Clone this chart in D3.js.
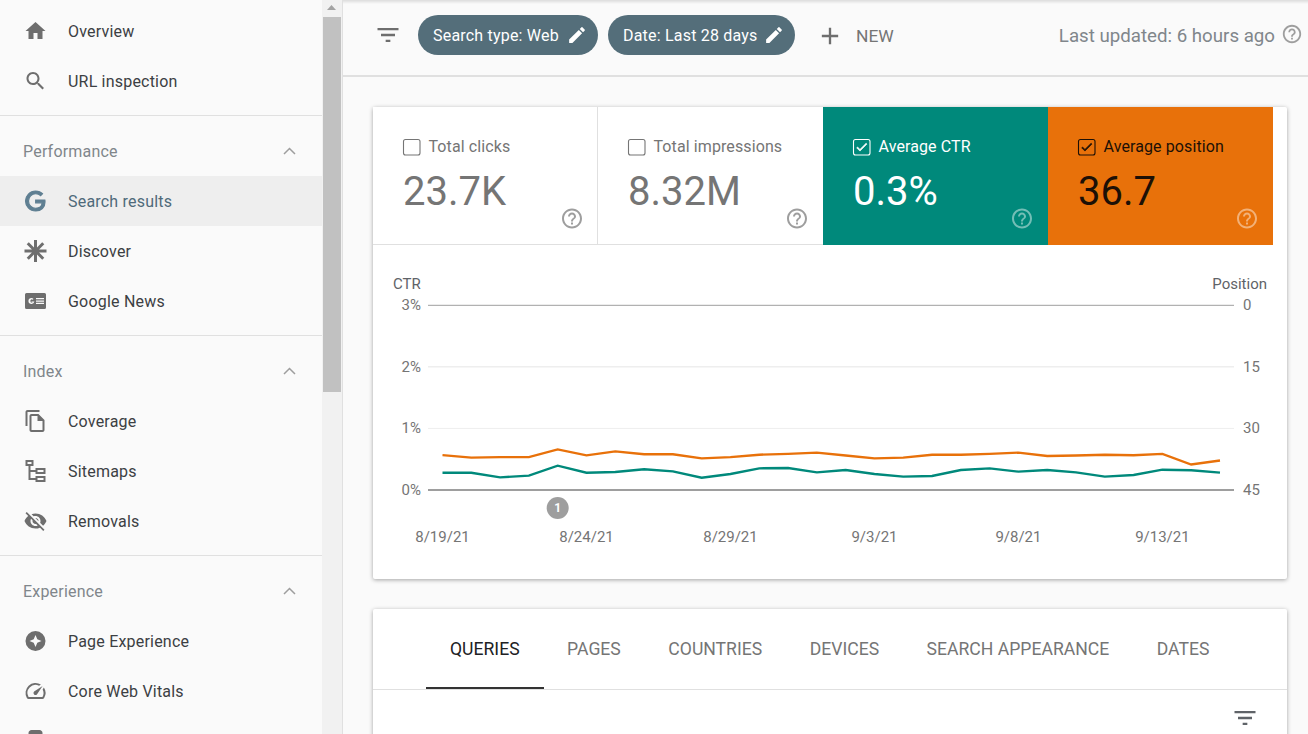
<!DOCTYPE html>
<html>
<head>
<meta charset="utf-8">
<script src="https://cdn.jsdelivr.net/npm/d3@7"></script>
<style>
    html, body { margin: 0; padding: 0; background: #fafafa; overflow: hidden; }
    svg { display: block; font-family: Roboto, sans-serif; }
    .card { filter: drop-shadow(0 1px 2px rgba(0,0,0,.35)); }
    .axis .domain { display: none; }
    .axis text { font-family: Roboto, sans-serif; font-size: 15px; fill: #757575; }
</style>
</head>
<body>
<svg id="page" width="1308" height="734"></svg>
<script>
// chart data
const dates = ['8/19/21','8/20/21','8/21/21','8/22/21','8/23/21','8/24/21','8/25/21',
    '8/26/21','8/27/21','8/28/21','8/29/21','8/30/21','8/31/21','9/1/21',
    '9/2/21','9/3/21','9/4/21','9/5/21','9/6/21','9/7/21','9/8/21',
    '9/9/21','9/10/21','9/11/21','9/12/21','9/13/21','9/14/21','9/15/21'];
const ctrValues = [0.28,0.28,0.205,0.233,0.395,0.28,0.292,0.336,0.303,0.2,0.26,0.352,0.357,0.287,
    0.325,0.26,0.217,0.227,0.325,0.352,0.298,0.325,0.287,0.217,0.244,0.33,0.32,0.282];
const positionValues = [36.5,37.1,37.0,37.0,35.1,36.55,35.6,36.3,36.3,37.3,37.0,36.4,36.2,35.9,
    36.6,37.3,37.1,36.4,36.4,36.2,35.9,36.7,36.6,36.4,36.55,36.2,38.8,37.8];
const xTickLabels = ['8/19/21','8/24/21','8/29/21','9/3/21','9/8/21','9/13/21'];
const ctrTicks = [0, 1, 2, 3];
const positionTicks = [0, 15, 30, 45];
const annotationDate = '8/23/21';

// page text
const navRows = [
    ['Overview', 'home'], ['URL inspection', 'search'], null,
    ['Performance'], ['Search results', 'google'], ['Discover', 'discover'], ['Google News', 'news'], null,
    ['Index'], ['Coverage', 'coverage'], ['Sitemaps', 'sitemaps'], ['Removals', 'removals'], null,
    ['Experience'], ['Page Experience', 'experience'], ['Core Web Vitals', 'vitals'], [' ', 'phone']
];
const tileLabels = ['Total clicks', 'Total impressions', 'Average CTR', 'Average position'];
const tileValues = ['23.7K', '8.32M', '0.3%', '36.7'];
const tileFills = ['#ffffff', '#ffffff', '#00897b', '#e8710a'];
const tileInk = ['#757575', '#757575', '#ffffff', '#1c1006'];
const tabLabels = ['QUERIES', 'PAGES', 'COUNTRIES', 'DEVICES', 'SEARCH APPEARANCE', 'DATES'];

const icons = {
    home: 'M10 20v-6h4v6h5v-8h3L12 3 2 12h3v8z',
    search: 'M15.5 14h-.79l-.28-.27C15.41 12.59 16 11.11 16 9.5 16 5.91 13.09 3 9.5 3S3 5.91 3 9.5 5.91 16 9.5 16c1.61 0 3.09-.59 4.23-1.57l.27.28v.79l5 4.99L20.49 19l-4.99-5zm-6 0C7.01 14 5 11.99 5 9.5S7.01 5 9.5 5 14 7.01 14 9.5 11.99 14 9.5 14z',
    google: 'M21.35 11.1h-9.17v2.73h6.51c-.33 3.81-3.5 5.44-6.5 5.44C8.36 19.27 5 16.25 5 12c0-4.1 3.2-7.27 7.2-7.27 3.09 0 4.9 1.97 4.9 1.97L19 4.72S16.56 2 12.1 2C6.42 2 2.03 6.8 2.03 12c0 5.05 4.13 10 10.22 10 5.35 0 9.25-3.67 9.25-9.09 0-1.15-.15-1.81-.15-1.81z',
    discover: 'M10.5 1h3v7.4l5.2-5.2 2.1 2.1-5.2 5.2H23v3h-7.4l5.2 5.2-2.1 2.1-5.2-5.2V23h-3v-7.4l-5.2 5.2-2.1-2.1 5.2-5.2H1v-3h7.4L3.2 5.3l2.1-2.1 5.2 5.2z',
    news: 'M3 4h18a1.5 1.5 0 0 1 1.5 1.5v13A1.5 1.5 0 0 1 21 20H3a1.5 1.5 0 0 1-1.5-1.5v-13A1.5 1.5 0 0 1 3 4zM8 9a3 3 0 1 0 2.9 3.6H8v1.1h1.4A1.7 1.7 0 1 1 8 10.3c.5 0 .9.2 1.2.4l.8-.8A3 3 0 0 0 8 9zm4.5 0v1.3h8V9zm0 2.4v1.3h8v-1.3zm0 2.4v1.3h8v-1.3z',
    coverage: 'M16 1H4c-1.1 0-2 .9-2 2v14h2V3h12V1zm-1 4H8c-1.1 0-1.99.9-1.99 2L6 21c0 1.1.89 2 1.99 2H19c1.1 0 2-.9 2-2V11l-6-6zM8 21V7h6v5h5v9H8z',
    sitemaps: 'M2 1h8v6H7v4h5V9h10v6H12v-2H7v6h5v-2h10v6H12v-2H5V7H2zm2 2v2h4V3zm10 8v2h6v-2zm0 8v2h6v-2z',
    removals: 'M12 7c2.76 0 5 2.24 5 5 0 .65-.13 1.26-.36 1.83l2.92 2.92c1.51-1.26 2.7-2.89 3.43-4.75-1.73-4.39-6-7.5-11-7.5-1.4 0-2.74.25-3.98.7l2.16 2.16C10.74 7.13 11.35 7 12 7zM2 4.27l2.28 2.28.46.46C3.08 8.3 1.78 10.02 1 12c1.73 4.39 6 7.5 11 7.5 1.55 0 3.03-.3 4.38-.84l.42.42L19.73 22 21 20.73 3.27 3 2 4.27zM7.53 9.8l1.55 1.55c-.05.21-.08.43-.08.65 0 1.66 1.34 3 3 3 .22 0 .44-.03.65-.08l1.55 1.55c-.67.33-1.41.53-2.2.53-2.76 0-5-2.24-5-5 0-.79.2-1.53.53-2.2zm4.31-.78l3.15 3.15.02-.16c0-1.66-1.34-3-3-3l-.17.01z',
    experience: 'M12 2a10 10 0 1 0 0 20a10 10 0 1 0 0-20zM12 6l1.8 4.2L18 12l-4.2 1.8L12 18l-1.8-4.2L6 12l4.2-1.8z',
    vitals: 'M20.38 8.57l-1.23 1.85a8 8 0 0 1-.22 7.58H5.07A8 8 0 0 1 15.58 6.85l1.85-1.23A10 10 0 0 0 3.35 19a2 2 0 0 0 1.72 1h13.85a2 2 0 0 0 1.74-1 10 10 0 0 0-.27-10.44zm-9.79 6.84a2 2 0 0 0 2.83 0l5.66-8.49-8.49 5.66a2 2 0 0 0 0 2.83z',
    phone: 'M16 1H8C6.34 1 5 2.34 5 4v16c0 1.66 1.34 3 3 3h8c1.66 0 3-1.34 3-3V4c0-1.66-1.34-3-3-3z',
    edit: 'M3 17.25V21h3.75L17.81 9.94l-3.75-3.75L3 17.25zM20.71 7.04c.39-.39.39-1.02 0-1.41l-2.34-2.34c-.39-.39-1.02-.39-1.41 0l-1.83 1.83 3.75 3.75 1.83-1.83z',
    filter: 'M10 18h4v-2h-4v2zM3 6v2h18V6H3zm3 7h12v-2H6v2z',
    plus: 'M19 13h-6v6h-2v-6H5v-2h6V5h2v6h6v2z',
    help: 'M11 18h2v-2h-2v2zm1-16C6.48 2 2 6.48 2 12s4.48 10 10 10 10-4.48 10-10S17.52 2 12 2zm0 18c-4.41 0-8-3.59-8-8s3.59-8 8-8 8 3.59 8 8-3.59 8-8 8zm0-14c-2.21 0-4 1.79-4 4h2c0-1.1.9-2 2-2s2 .9 2 2c0 2-3 1.75-3 5h2c0-2.25 3-2.5 3-5 0-2.21-1.79-4-4-4z',
    check: 'M9 16.17L4.83 12l-1.42 1.41L9 19 21 7l-1.41-1.41z'
};

const svg = d3.select('#page');

function drawIcon(parent, name, cx, cy, size, color, opacity) {
    const s = size / 24;
    const icon = parent.append('path')
        .attr('d', icons[name])
        .attr('fill-rule', 'evenodd')
        .attr('fill', color)
        .attr('opacity', opacity === undefined ? 1 : opacity)
        .attr('transform', `translate(${cx - size / 2},${cy - size / 2}) scale(${s})`);
    // the G logo and the check marks are heavier in the original
    if (name === 'google' || name === 'check') {
        icon.attr('stroke', color).attr('stroke-width', 1.2);
    }
}

function drawText(parent, str, x, y, size, color, anchor, spacing) {
    return parent.append('text')
        .attr('x', x).attr('y', y)
        .attr('dy', '0.35em')
        .attr('font-size', size)
        .attr('fill', color)
        .attr('text-anchor', anchor || 'start')
        .attr('letter-spacing', spacing || 0)
        .text(str);
}

drawSidebar();
drawHeader();
drawMainCard();
drawTabsCard();

function drawSidebar() {
    const g = svg.append('g');
    let y = 31;
    navRows.forEach(row => {
        if (row === null) {
            // dividers sit a bit above the next section title
            g.append('rect').attr('x', 0).attr('y', y - 16).attr('width', 322).attr('height', 1).attr('fill', '#e0e0e0');
            y += 20;
            return;
        }
        if (row.length === 1) {
            drawText(g, row[0], 23, y + 0.5, 16, '#80868b', 'start', 0.2);
            g.append('path')
                .attr('d', `M284 ${y + 3}l5.5-5.5 5.5 5.5`)
                .attr('fill', 'none').attr('stroke', '#9e9e9e').attr('stroke-width', 1.5);
        } else {
            const selected = row[0] === 'Search results';
            if (selected) {
                g.append('rect').attr('x', 0).attr('y', y - 25).attr('width', 322).attr('height', 50).attr('fill', '#eeeeee');
            }
            drawIcon(g, row[1], 35.5, y, 24, selected ? '#5f7f92' : '#6e6e6e');
            drawText(g, row[0], 68, y + 0.5, 16, selected ? '#4f6a7a' : '#3c4043', 'start', 0.2);
        }
        y += 50;
    });

    // scrollbar
    g.append('rect').attr('x', 322).attr('y', 0).attr('width', 20).attr('height', 734).attr('fill', '#f1f1f1');
    g.append('rect').attr('x', 323).attr('y', 17).attr('width', 18).attr('height', 375).attr('fill', '#c1c1c1');
    g.append('path').attr('d', 'M327 10l4.5-5 4.5 5z').attr('fill', '#a3a3a3');
    g.append('rect').attr('x', 342).attr('y', 0).attr('width', 1).attr('height', 734).attr('fill', '#e0e0e0');
}

function drawHeader() {
    const g = svg.append('g');
    g.append('rect').attr('x', 343).attr('y', 75).attr('width', 965).attr('height', 2).attr('fill', '#e0e0e0');
    const shade = svg.append('defs').append('linearGradient').attr('id', 'topShade').attr('x2', 0).attr('y2', 1);
    shade.append('stop').attr('offset', 0).attr('stop-color', '#000').attr('stop-opacity', 0.12);
    shade.append('stop').attr('offset', 1).attr('stop-color', '#000').attr('stop-opacity', 0);
    g.append('rect').attr('x', 343).attr('y', 0).attr('width', 965).attr('height', 4).attr('fill', 'url(#topShade)');

    drawIcon(g, 'filter', 388, 35, 28, '#6e6e6e');

    const chips = [['Search type: Web', 418, 180], ['Date: Last 28 days', 608, 187]];
    chips.forEach(([label, x, w]) => {
        g.append('rect').attr('x', x).attr('y', 15).attr('width', w).attr('height', 40).attr('rx', 20).attr('fill', '#546e7a');
        drawText(g, label, x + 15, 35.5, 16, '#ffffff', 'start', 0.2);
        drawIcon(g, 'edit', x + w - 21, 35, 21, '#ffffff');
    });

    drawIcon(g, 'plus', 830, 36, 28, '#6e6e6e');
    drawText(g, 'NEW', 856, 36, 17.4, '#757575');
    drawText(g, 'Last updated: 6 hours ago', 1275, 35, 18.7, '#80868b', 'end');
    drawIcon(g, 'help', 1292, 34, 22, '#9e9e9e');
}

function drawMainCard() {
    svg.append('rect').attr('class', 'card')
        .attr('x', 373).attr('y', 107).attr('width', 914).attr('height', 472).attr('rx', 2).attr('fill', '#ffffff');

    const tileWidth = 225;
    const tiles = svg.append('g').selectAll('g')
        .data(tileLabels)
        .join('g')
        .attr('transform', (d, i) => `translate(${373 + i * tileWidth},107)`);

    tiles.append('rect').attr('width', tileWidth).attr('height', 138).attr('fill', (d, i) => tileFills[i]);
    tiles.each(function (label, i) {
        const t = d3.select(this);
        const ink = tileInk[i];
        const on = i > 1;
        t.append('rect').attr('x', 30.5).attr('y', 32.5).attr('width', 16.5).attr('height', 15.5).attr('rx', 2)
            .attr('fill', 'none').attr('stroke', ink).attr('stroke-width', 1.1);
        if (on) drawIcon(t, 'check', 38.7, 40, 14, ink);
        drawText(t, label, 55.5, 39, 16, ink, 'start', 0.1);
        t.append('text').attr('x', 30).attr('y', 98).attr('font-size', 40).attr('fill', ink).text(tileValues[i]);
        if (on) {
            drawIcon(t, 'help', 199, 111.5, 24, '#ffffff', 0.45);
        } else {
            drawIcon(t, 'help', 199, 111.5, 24, '#9e9e9e');
        }
    });
    svg.append('rect').attr('x', 597).attr('y', 107).attr('width', 1).attr('height', 138).attr('fill', '#e0e0e0');
    svg.append('rect').attr('x', 373).attr('y', 244).attr('width', 450).attr('height', 1).attr('fill', '#e0e0e0');

    drawChart();
}

function drawChart() {
    const parseDate = d3.timeParse('%m/%d/%y');
    const plotLeft = 428, plotRight = 1234, plotTop = 305.3, plotBottom = 490;

    const x = d3.scaleTime()
        .domain([parseDate(dates[0]), parseDate(dates[dates.length - 1])])
        .range([442.5, 1220]);
    const yCtr = d3.scaleLinear().domain([0, 3]).range([plotBottom, plotTop]);
    const yPosition = d3.scaleLinear().domain([0, 45]).range([plotTop, plotBottom]);

    const chart = svg.append('g');

    // left axis also draws the grid lines
    const leftAxis = chart.append('g')
        .attr('class', 'axis')
        .attr('transform', `translate(${plotLeft},0)`)
        .call(d3.axisLeft(yCtr).tickValues(ctrTicks).tickFormat(d => d + '%').offset(0)
            .tickSize(-(plotRight - plotLeft)).tickPadding(7));
    leftAxis.selectAll('line')
        .attr('stroke', d => (d === 0 || d === 3) ? '#9e9e9e' : '#eeeeee')
        .attr('stroke-width', d => d === 0 ? 2 : (d === 2 ? 1.5 : 1));

    chart.append('g')
        .attr('class', 'axis')
        .attr('transform', `translate(${plotRight},0)`)
        .call(d3.axisRight(yPosition).tickValues(positionTicks).offset(0).tickSize(0).tickPadding(9));

    const bottomAxis = chart.append('g')
        .attr('class', 'axis')
        .attr('transform', 'translate(0,526.5)')
        .call(d3.axisBottom(x)
            .tickValues(xTickLabels.map(parseDate))
            .tickFormat((d, i) => xTickLabels[i])
            .offset(0).tickSize(0).tickPadding(5));
    bottomAxis.selectAll('text').attr('dy', '0.71em');

    chart.append('text').attr('x', 393).attr('y', 284).attr('dy', '0.35em')
        .attr('font-size', 15).attr('fill', '#5f6368').text('CTR');
    chart.append('text').attr('x', 1267).attr('y', 284).attr('dy', '0.35em').attr('text-anchor', 'end')
        .attr('font-size', 15).attr('fill', '#5f6368').text('Position');

    const ctrLine = d3.line().x((d, i) => x(parseDate(dates[i]))).y(d => yCtr(d));
    const positionLine = d3.line().x((d, i) => x(parseDate(dates[i]))).y(d => yPosition(d));

    chart.append('path').datum(ctrValues).attr('d', ctrLine)
        .attr('fill', 'none').attr('stroke', '#00897b').attr('stroke-width', 2.4);
    chart.append('path').datum(positionValues).attr('d', positionLine)
        .attr('fill', 'none').attr('stroke', '#e8710a').attr('stroke-width', 2.4);

    // annotation badge under the axis
    const ax = x(parseDate(annotationDate));
    chart.append('circle').attr('cx', ax).attr('cy', 508).attr('r', 11).attr('fill', '#9e9e9e');
    chart.append('text').attr('x', ax).attr('y', 508).attr('dy', '0.35em').attr('text-anchor', 'middle')
        .attr('font-size', 12).attr('font-weight', 700).attr('fill', '#ffffff').text('1');
}

function drawTabsCard() {
    svg.append('rect').attr('class', 'card')
        .attr('x', 373).attr('y', 609).attr('width', 914).attr('height', 140).attr('rx', 2).attr('fill', '#ffffff');

    const g = svg.append('g');
    let x = 450;
    tabLabels.forEach((label, i) => {
        const t = drawText(g, label, x, 649, 17.6, i === 0 ? '#202124' : '#757575');
        x += t.node().getComputedTextLength() + 47.5;
    });
    g.append('rect').attr('x', 373).attr('y', 689).attr('width', 914).attr('height', 1).attr('fill', '#e0e0e0');
    g.append('rect').attr('x', 426).attr('y', 687).attr('width', 118).attr('height', 2).attr('fill', '#333333');
    drawIcon(g, 'filter', 1245, 718, 28, '#5f6368');
}
</script>
</body>
</html>
